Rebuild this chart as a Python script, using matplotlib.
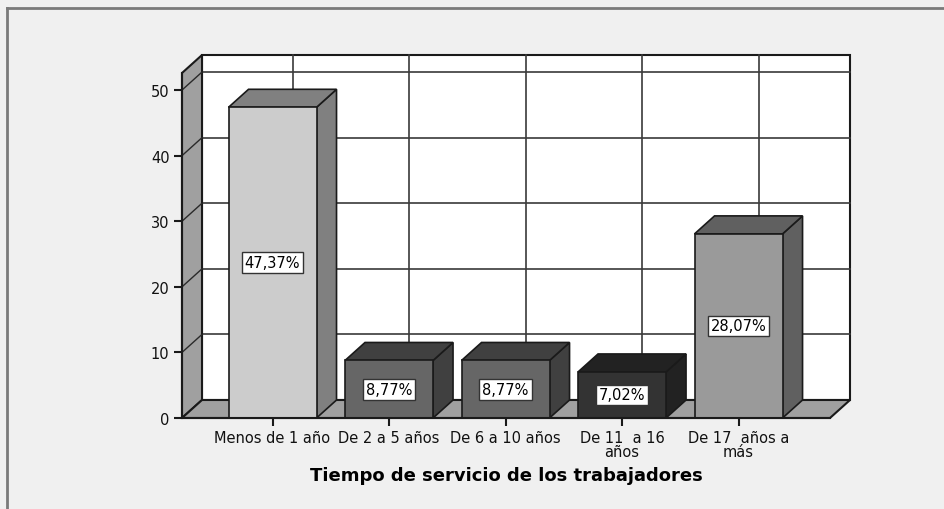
import matplotlib
matplotlib.use('Agg')
from matplotlib import pyplot as plt
from matplotlib.patches import Polygon, Rectangle
from matplotlib.lines import Line2D

# data
categories = ['Menos de 1 año', 'De 2 a 5 años', 'De 6 a 10 años',
              'De 11  a 16\naños', 'De 17  años a\nmás']
values = [47.37, 8.77, 8.77, 7.02, 28.07]
labels = ['47,37%', '8,77%', '8,77%', '7,02%', '28,07%']
yticks = [0, 10, 20, 30, 40, 50]
xlabel = 'Tiempo de servicio de los trabajadores'

front_colors = ['#cccccc', '#666666', '#666666', '#333333', '#9a9a9a']
shade_colors = ['#808080', '#404040', '#404040', '#222222', '#606060']

bg = '#f0f0f0'
wall_col = '#a0a0a0'
edge = '#1a1a1a'

W, H = 945, 510
fig = plt.figure(figsize=(W / 100, H / 100), dpi=100, facecolor=bg)
ax = fig.add_axes([182 / W, 1 - 419 / H, (830 - 182) / W, (419 - 74) / H])
ax.set_facecolor('none')

x0, x1 = -0.777, 4.785
ytop = 52.6
ax.set_xlim(x0, x1)
ax.set_ylim(0, ytop)

# depth of the 3D effect, in pixels, converted to data units
px_x = (x1 - x0) / (830 - 182)
px_y = ytop / (419 - 74)
dx, dy = 20 * px_x, 18 * px_y
bw = 88 * px_x

# back wall
ax.add_patch(Rectangle((x0 + dx, dy), x1 - x0, ytop, facecolor='white',
                       edgecolor=edge, lw=1.5, clip_on=False, zorder=1))
for v in yticks[1:]:
    ax.plot([x0 + dx, x1 + dx], [v + dy, v + dy], color='#3a3a3a', lw=1.2,
            clip_on=False, zorder=1.2)
for i in range(len(categories)):
    ax.plot([i + dx, i + dx], [dy, ytop + dy], color='#3a3a3a', lw=1.2,
            clip_on=False, zorder=1.2)

# left wall
ax.add_patch(Polygon([(x0, 0), (x0 + dx, dy), (x0 + dx, ytop + dy), (x0, ytop)],
                     closed=True, facecolor=wall_col, edgecolor=edge, lw=1.5,
                     clip_on=False, zorder=1.5))
for v in yticks[1:]:
    ax.plot([x0, x0 + dx], [v, v + dy], color='#2a2a2a', lw=1.0,
            clip_on=False, zorder=1.6)

# floor
ax.add_patch(Polygon([(x0, 0), (x0 + dx, dy), (x1 + dx, dy), (x1, 0)],
                     closed=True, facecolor=wall_col, edgecolor=edge, lw=1.5,
                     clip_on=False, zorder=1.5))

# bars
for i, (v, fc, sc, lab) in enumerate(zip(values, front_colors, shade_colors, labels)):
    l, r = i - bw / 2, i + bw / 2
    ax.add_patch(Polygon([(r, 0), (r + dx, dy), (r + dx, v + dy), (r, v)],
                         closed=True, facecolor=sc, edgecolor=edge, lw=1.2,
                         clip_on=False, zorder=3))
    ax.add_patch(Polygon([(l, v), (l + dx, v + dy), (r + dx, v + dy), (r, v)],
                         closed=True, facecolor=sc, edgecolor=edge, lw=1.2,
                         clip_on=False, zorder=3))
    ax.add_patch(Rectangle((l, 0), bw, v, facecolor=fc, edgecolor=edge,
                           lw=1.2, clip_on=False, zorder=3.5))
    ax.text(i, v / 2, lab, ha='center', va='center', fontsize=10.5, zorder=5,
            bbox=dict(boxstyle='square,pad=0.2', facecolor='white',
                      edgecolor='#333333', lw=1))

for s in ['top', 'right']:
    ax.spines[s].set_visible(False)
for s in ['left', 'bottom']:
    ax.spines[s].set_linewidth(1.5)
    ax.spines[s].set_color(edge)
    ax.spines[s].set_zorder(4)

ax.set_yticks(yticks)
ax.set_xticks(range(len(categories)))
ax.set_xticklabels(categories, linespacing=0.85)
ax.tick_params(axis='both', length=6, width=1.5, color=edge, labelsize=10.5,
               labelcolor='#111111')
ax.tick_params(axis='y', pad=3)
ax.tick_params(axis='x', pad=3)
ax.set_xlabel(xlabel, fontsize=13, fontweight='bold', labelpad=5)

# outer frame (top and left edges only)
fig.add_artist(Line2D([7 / W, 1], [1 - 9 / H, 1 - 9 / H], color='#7a7a7a', lw=2))
fig.add_artist(Line2D([7 / W, 7 / W], [0, 1 - 9 / H], color='#7a7a7a', lw=2))

fig.savefig('out.png', dpi=100, facecolor=bg)
